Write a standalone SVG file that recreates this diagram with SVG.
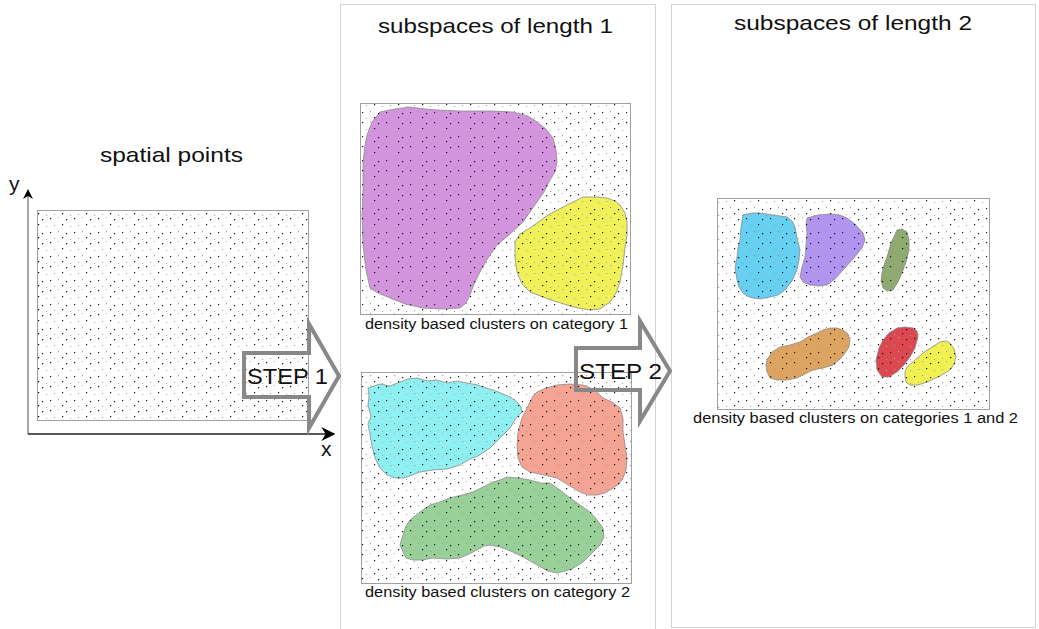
<svg xmlns="http://www.w3.org/2000/svg" width="1039" height="629" viewBox="0 0 1039 629">
<defs>
<pattern id="dots" width="24" height="24" patternUnits="userSpaceOnUse">
<rect x="2" y="2" width="1.2" height="1.2" fill="#111"/>
<rect x="10" y="1" width="1.1" height="1.1" fill="#aaa"/>
<rect x="18" y="3" width="1.2" height="1.2" fill="#111"/>
<rect x="6" y="9" width="1.1" height="1.1" fill="#999"/>
<rect x="14" y="8" width="1.2" height="1.2" fill="#111"/>
<rect x="22" y="10" width="1.1" height="1.1" fill="#aaa"/>
<rect x="2" y="16" width="1.2" height="1.2" fill="#222"/>
<rect x="10" y="15" width="1.1" height="1.1" fill="#999"/>
<rect x="18" y="17" width="1.2" height="1.2" fill="#111"/>
<rect x="6" y="22" width="1.1" height="1.1" fill="#aaa"/>
<rect x="14" y="21" width="1.2" height="1.2" fill="#111"/>
<rect x="22" y="23" width="1.1" height="1.1" fill="#999"/>
</pattern>
<marker id="ah" viewBox="0 0 10 10" refX="9" refY="5" markerWidth="10" markerHeight="12" markerUnits="userSpaceOnUse" orient="auto">
<path d="M0,0 L10,5 L0,10 L3,5 Z" fill="#000"/>
</marker>
<marker id="ahx" viewBox="0 0 10 10" refX="9" refY="5" markerWidth="26" markerHeight="14" markerUnits="userSpaceOnUse" orient="auto">
<path d="M0,0 L10,5 L0,10 L3,5 Z" fill="#000"/>
</marker>
</defs>
<style>
.frame{fill:none;stroke:#a8a8a8;stroke-width:1;stroke-dasharray:1 1}
.panel{fill:#fff;stroke:#a0a0a0;stroke-width:1}
.dotfill{fill:url(#dots);stroke:#a0a0a0;stroke-width:1}
.cl{stroke:#8a8a8a;stroke-width:0.8;stroke-linejoin:round}
.title{font-family:"Liberation Sans",Arial,sans-serif;font-size:21px;fill:#111}
.lab{font-family:"Liberation Sans",Arial,sans-serif;font-size:14px;fill:#111}
.step{fill:none;stroke:#888;stroke-width:4;stroke-linejoin:miter}
.steptxt{font-family:"Liberation Sans",Arial,sans-serif;font-size:22px;fill:#111}
</style>

<g id="frames">
<rect class="frame" x="340.5" y="4.5" width="315" height="630"/>
<rect class="frame" x="671.5" y="4.5" width="364" height="623"/>
</g>

<g id="spatial-points">
<text class="title" x="100" y="162" textLength="143" lengthAdjust="spacingAndGlyphs">spatial points</text>
<rect class="panel" x="37.5" y="210.5" width="271" height="210"/>
<rect class="dotfill" x="37.5" y="210.5" width="271" height="210"/>
</g>

<g id="axes">
<line x1="28" y1="434" x2="28" y2="190" stroke="#888" stroke-width="1.5" marker-end="url(#ah)"/>
<line x1="28" y1="434" x2="334" y2="434" stroke="#222" stroke-width="1.5" marker-end="url(#ahx)"/>
<text class="title" x="9" y="191" font-size="23">y</text>
<text class="title" x="321" y="456" font-size="23">x</text>
</g>

<g id="title-length1">
<text class="title" x="378" y="33" textLength="235" lengthAdjust="spacingAndGlyphs">subspaces of length 1</text>
</g>
<g id="title-length2">
<text class="title" x="734" y="30" textLength="238" lengthAdjust="spacingAndGlyphs">subspaces of length 2</text>
</g>

<g id="category1">
<rect class="panel" x="360.5" y="103.5" width="270" height="211"/>
<polygon class="cl" fill="#d295dd" points="380,112 395,109 410,107 425,109 437,110 460,111 490,111 513,112 528,116 537,122 546,129 553,138 556,150 557,162 555,172 550,180 544,192 537,202 530,212 523,222 510,234 497,245 488,258 480,272 474,284 470,295 466,303 460,308 440,309 423,308 405,304 390,298 378,293 370,288 366,270 363,245 362,215 363,190 363,162 365,145 367,135 372,122"/>
<polygon class="cl" fill="#f0f058" points="530,228 548,215 567,205 583,197 597,197 607,198 615,201 620,205 625,213 627,222 627,235 625,248 623,265 620,282 616,293 610,302 600,309 590,310 578,308 567,305 548,299 530,292 522,284 517,272 515,258 515,242 520,234"/>
<rect class="dotfill" x="360.5" y="103.5" width="270" height="211"/>
<text class="lab" x="365" y="329" textLength="263" lengthAdjust="spacingAndGlyphs">density based clusters on category 1</text>
</g>

<g id="category2">
<rect class="panel" x="361.5" y="372.5" width="270" height="211"/>
<polygon class="cl" fill="#8ef0f0" points="368,388 380,384 390,386 400,382 408,379 417,378 427,381 437,380 447,383 457,381 467,383 478,385 486,388 493,390 503,394 510,397 517,402 521,407 522,412 516,418 510,428 500,438 490,448 478,456 470,459 460,465 447,469 433,470 420,472 410,476 403,478 395,478 387,475 380,468 375,458 372,446 370,435 368,424 371,416 368,406 369,396"/>
<polygon class="cl" fill="#f5a393" points="530,402 533,396 537,392 546,388 557,385 570,384 583,385 595,390 603,398 612,402 620,408 623,418 623,432 625,445 627,458 626,470 623,478 619,484 613,488 605,493 597,495 588,495 580,492 570,486 557,478 544,475 530,472 522,467 518,458 517,445 518,432 522,418 526,410"/>
<polygon class="cl" fill="#98d098" points="403,535 406,526 410,520 420,512 430,505 440,502 450,498 462,495 473,492 483,487 493,482 500,480 507,477 518,478 530,480 540,483 550,483 560,490 570,498 580,505 590,512 597,520 603,528 604,537 600,545 592,553 583,562 572,569 557,573 548,571 537,565 525,558 513,552 500,547 490,545 484,546 477,550 469,554 460,558 447,559 433,558 422,560 413,560 406,558 403,552 400,545"/>
<rect class="dotfill" x="361.5" y="372.5" width="270" height="211"/>
<text class="lab" x="365" y="597" textLength="265" lengthAdjust="spacingAndGlyphs">density based clusters on category 2</text>
</g>

<g id="categories12">
<rect class="panel" x="717.5" y="198.5" width="272" height="211"/>
<polygon class="cl" fill="#66d0f2" points="743,215 752,213 760,213 773,215 787,217 792,221 795,227 797,238 800,250 799,260 797,270 792,281 785,290 778,295 770,297 760,299 753,298 747,296 743,293 739,287 737,280 735,268 737,257 738,248 740,240 741,227"/>
<polygon class="cl" fill="#b094f0" points="807,218 818,215 830,214 840,215 847,218 855,224 863,233 865,240 862,248 853,259 843,270 835,279 827,285 818,286 810,285 803,282 800,277 802,267 805,257 806,245 807,233 806,224"/>
<polygon class="cl" fill="#8faa70" points="897,230 902,229 907,232 909,240 909,250 906,262 902,273 898,282 893,290 887,291 883,288 881,281 882,273 884,265 887,257 891,243"/>
<polygon class="cl" fill="#dca460" points="767,360 772,352 780,347 790,345 800,342 808,337 817,333 823,330 830,328 837,328 843,330 848,334 850,340 849,347 845,353 840,359 833,365 823,368 813,370 805,374 797,378 787,380 777,380 770,378 767,372 766,366"/>
<polygon class="cl" fill="#dc4850" points="883,340 889,333 897,328 905,327 913,328 917,331 918,337 915,348 910,357 904,365 897,372 889,377 882,377 877,370 876,360 879,348"/>
<polygon class="cl" fill="#f0f050" points="907,367 915,360 923,353 932,347 940,342 946,341 950,343 954,349 956,357 954,364 950,370 940,376 927,382 918,385 910,385 906,382 905,377 905,372"/>
<rect class="dotfill" x="717.5" y="198.5" width="272" height="211"/>
<text class="lab" x="693" y="423" textLength="325" lengthAdjust="spacingAndGlyphs">density based clusters on categories 1 and 2</text>
</g>

<g id="connectors">
<g id="step1">
<path class="step" d="M244,353 L309,353 L309,324 L339,376 L309,428 L309,397 L244,397 Z"/>
<text class="steptxt" x="247" y="384" textLength="81" lengthAdjust="spacingAndGlyphs">STEP 1</text>
</g>
<g id="step2">
<path class="step" d="M576,348 L640,348 L640,321 L670,371 L640,421 L640,390 L576,390 Z" fill="#fff"/>
<text class="steptxt" x="579" y="379" textLength="83" lengthAdjust="spacingAndGlyphs">STEP 2</text>
</g>
</g>
</svg>
